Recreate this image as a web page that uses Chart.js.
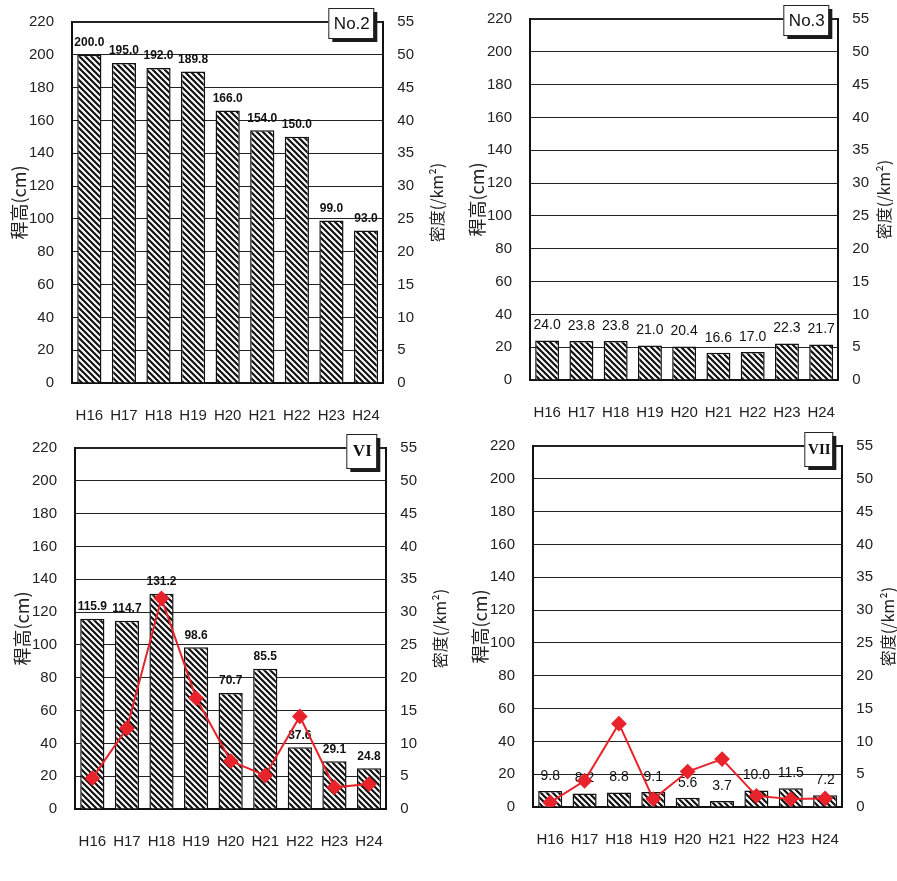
<!DOCTYPE html>
<html>
<head>
<meta charset="utf-8">
<script src="https://cdn.jsdelivr.net/npm/chart.js@4.4.1/dist/chart.umd.min.js"></script>
<style>
  body { margin: 0; background: #fff; width: 897px; height: 881px; position: relative; overflow: hidden; }
  .panel { position: absolute; width: 450px; height: 446px; }
</style>
</head>
<body>
<div class="panel" style="left:0px;top:-5px"><canvas id="no2"></canvas></div>
<div class="panel" style="left:458px;top:-8px;width:447px"><canvas id="no3"></canvas></div>
<div class="panel" style="left:3px;top:421px"><canvas id="vi"></canvas></div>
<div class="panel" style="left:461px;top:419px;width:448px"><canvas id="vii"></canvas></div>
<script>
const years = ['H16', 'H17', 'H18', 'H19', 'H20', 'H21', 'H22', 'H23', 'H24'];

// 稈高 (cm)
const heightNo2 = [200.0, 195.0, 192.0, 189.8, 166.0, 154.0, 150.0, 99.0, 93.0];
const heightNo3 = [24.0, 23.8, 23.8, 21.0, 20.4, 16.6, 17.0, 22.3, 21.7];
const heightVI = [115.9, 114.7, 131.2, 98.6, 70.7, 85.5, 37.6, 29.1, 24.8];
const heightVII = [9.8, 8.2, 8.8, 9.1, 5.6, 3.7, 10.0, 11.5, 7.2];

// 密度 (/km²)
const densityVI = [4.7, 12.3, 32.1, 16.9, 7.3, 5.1, 14.1, 3.3, 3.8];
const densityVII = [0.7, 4.0, 12.7, 1.2, 5.4, 7.3, 1.7, 1.2, 1.3];

const heightMax = 220, heightStep = 20;
const densityMax = 55, densityStep = 5;

const hatch = () => {
  const c = document.createElement('canvas');
  c.width = 6; c.height = 6;
  const g = c.getContext('2d');
  g.fillStyle = '#fff';
  g.fillRect(0, 0, 6, 6);
  g.strokeStyle = '#111';
  g.lineWidth = 2.2;
  g.beginPath();
  g.moveTo(-1, -1); g.lineTo(7, 7);
  g.moveTo(-1, 5); g.lineTo(1, 7);
  g.moveTo(5, -1); g.lineTo(7, 1);
  g.stroke();
  return g.createPattern(c, 'repeat');
};

// value labels above the bars
const valueLabels = {
  id: 'valueLabels',
  afterDatasetDraw(chart, args, opts) {
    if (chart.data.datasets[args.index].type !== 'bar') return;
    const ctx = chart.ctx;
    ctx.save();
    ctx.font = opts.font;
    ctx.fillStyle = '#111';
    ctx.textAlign = 'center';
    ctx.textBaseline = 'bottom';
    args.meta.data.forEach((bar, i) => {
      const v = chart.data.datasets[args.index].data[i];
      ctx.fillText(v.toFixed(1), bar.x, bar.y - opts.gap);
    });
    ctx.restore();
  }
};

// the little name box with a shadow in the upper right corner
const cornerTag = {
  id: 'cornerTag',
  afterDraw(chart, args, opts) {
    const ctx = chart.ctx, a = chart.chartArea;
    const w = opts.width, h = opts.height;
    const x = a.right - 10 - w, y = a.top - 14;
    ctx.save();
    ctx.fillStyle = '#1a1a1a';
    ctx.fillRect(x + 4, y + 4, w, h);
    ctx.fillStyle = '#fff';
    ctx.fillRect(x, y, w, h);
    ctx.strokeStyle = '#222';
    ctx.lineWidth = 1;
    ctx.strokeRect(x + 0.5, y + 0.5, w, h);
    ctx.fillStyle = '#111';
    ctx.font = opts.font;
    ctx.textAlign = 'center';
    ctx.textBaseline = 'middle';
    ctx.fillText(opts.text, x + w / 2 + 1, y + h / 2 + 1);
    ctx.restore();
  }
};

// both axis titles read bottom to top
const axisTitles = {
  id: 'axisTitles',
  afterDraw(chart, args, opts) {
    const ctx = chart.ctx, a = chart.chartArea;
    const mid = (a.top + a.bottom) / 2;
    const put = (text, x, size) => {
      ctx.save();
      ctx.translate(x, mid);
      ctx.rotate(-Math.PI / 2);
      ctx.font = size + 'px "Noto Sans CJK JP"';
      ctx.fillStyle = '#222';
      ctx.textAlign = 'center';
      ctx.textBaseline = 'middle';
      ctx.fillText(text, 0, 0);
      ctx.restore();
    };
    put('稈高(cm)', a.left - 53, 18);
    put('密度(/km²)', a.right + opts.right, 16);
  }
};

const makePanel = (id, tag, heights, density, labelFont, labelGap, rightTitleOffset) => {
  const datasets = [{
    type: 'bar',
    data: heights,
    backgroundColor: hatch(),
    borderColor: '#111',
    borderWidth: 1.5,
    barPercentage: 0.7,
    categoryPercentage: 1,
    yAxisID: 'y',
    order: 1
  }];
  if (density) {
    datasets.push({
      type: 'line',
      data: density,
      borderColor: '#e8232b',
      backgroundColor: '#e8232b',
      borderWidth: 2,
      pointStyle: 'rectRot',
      pointRadius: 6.5,
      tension: 0,
      yAxisID: 'y1',
      order: 0
    });
  }
  return new Chart(document.getElementById(id), {
    data: { labels: years, datasets: datasets },
    plugins: [valueLabels, cornerTag, axisTitles],
    options: {
      responsive: true,
      maintainAspectRatio: false,
      animation: false,
      layout: { padding: { top: 10, right: 22, bottom: 0, left: 11 } },
      scales: {
        x: {
          grid: { display: false },
          border: { display: true, color: '#111', width: 2 },
          ticks: {
            color: '#222', padding: 16, maxRotation: 0, minRotation: 0, autoSkip: false,
            font: { family: 'Liberation Sans', size: 15 }
          }
        },
        y: {
          min: 0, max: heightMax,
          ticks: { stepSize: heightStep, color: '#222', padding: 18, font: { family: 'Liberation Sans', size: 15 } },
          grid: {
            color: '#222',
            lineWidth: (c) => c.tick && c.tick.value === heightMax ? 2 : 1,
            drawTicks: false
          },
          border: { display: true, color: '#111', width: 2 }
        },
        y1: {
          position: 'right',
          min: 0, max: densityMax,
          ticks: { stepSize: densityStep, color: '#222', padding: 14, font: { family: 'Liberation Sans', size: 15 } },
          grid: { drawOnChartArea: false, drawTicks: false },
          border: { display: true, color: '#111', width: 2 }
        }
      },
      plugins: {
        legend: { display: false },
        tooltip: { enabled: false },
        valueLabels: { font: labelFont, gap: labelGap },
        cornerTag: tag,
        axisTitles: { right: rightTitleOffset }
      }
    }
  });
};

makePanel('no2', { text: 'No.2', width: 45, height: 30, font: '17px "Liberation Sans"' },
  heightNo2, null, 'bold 12px "Liberation Sans"', 6, 54);
makePanel('no3', { text: 'No.3', width: 45, height: 30, font: '17px "Liberation Sans"' },
  heightNo3, null, '14px "Liberation Sans"', 8, 46);
makePanel('vi', { text: 'VI', width: 30, height: 34, font: 'bold 17px "Liberation Serif"' },
  heightVI, densityVI, 'bold 12px "Liberation Sans"', 6, 54);
makePanel('vii', { text: 'VII', width: 28, height: 34, font: 'bold 15px "Liberation Serif"' },
  heightVII, densityVII, '14px "Liberation Sans"', 8, 46);
</script>
</body>
</html>
